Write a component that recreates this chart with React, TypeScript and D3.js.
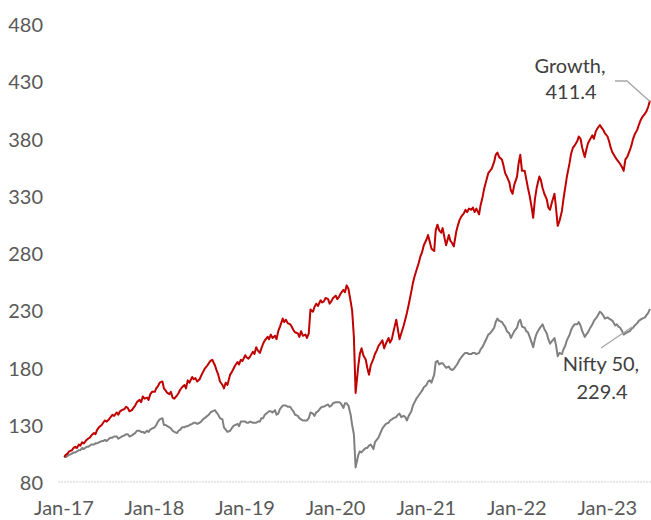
import React from "react";
import * as d3 from "d3";

// Each month carries four observations, on days 1, 8, 15 and 22.
const months: string[] = [
  "2017-01","2017-02","2017-03","2017-04","2017-05","2017-06","2017-07","2017-08","2017-09","2017-10","2017-11","2017-12",
  "2018-01","2018-02","2018-03","2018-04","2018-05","2018-06","2018-07","2018-08","2018-09","2018-10","2018-11","2018-12",
  "2019-01","2019-02","2019-03","2019-04","2019-05","2019-06","2019-07","2019-08","2019-09","2019-10","2019-11","2019-12",
  "2020-01","2020-02","2020-03","2020-04","2020-05","2020-06","2020-07","2020-08","2020-09","2020-10","2020-11","2020-12",
  "2021-01","2021-02","2021-03","2021-04","2021-05","2021-06","2021-07","2021-08","2021-09","2021-10","2021-11","2021-12",
  "2022-01","2022-02","2022-03","2022-04","2022-05","2022-06","2022-07","2022-08","2022-09","2022-10","2022-11","2022-12",
  "2023-01","2023-02","2023-03","2023-04","2023-05","2023-06",
];
const obsDays: number[] = [2, 8, 15, 22];

const growth: number[][] = [
  [100,102,103,105],[106,108,109,108],[111,110,113,112],[115,116,117,119],[121,120,124,126],[128,130,132,131],
  [133,135,137,136],[139,137,140,141],[142,144,143,140],[141,143,145,148],[150,148,153,151],[152,150,155,157],
  [157,160,162,165],[166,160,158,156],[155,157,152,151],[154,156,159,161],[163,160,167,165],[170,168,169,166],
  [168,171,174,177],[180,182,184,185],[180,176,172,166],[163,160,165,163],[172,174,177,180],[183,181,185,184],
  [189,187,186,188],[192,190,196,193],[191,195,199,202],[205,203,207,204],[206,203,210,214],[221,218,220,217],
  [216,214,211,209],[208,205,210,206],[207,204,208,229],[227,231,234,232],[237,235,236,239],[238,234,236,239],
  [241,238,240,243],[246,244,250,247],[236,228,205,156],[180,190,195,189],[185,178,172,180],[186,190,193,197],
  [200,202,195,199],[204,200,203,210],[220,212,203,208],[215,220,226,233],[245,252,258,263],[270,275,279,285],
  [290,294,288,282],[280,298,303,298],[296,300,292,285],[294,289,287,284],[297,302,307,310],[313,316,314,317],
  [316,318,314,317],[312,320,326,334],[343,348,350,352],[358,364,366,362],[360,355,348,345],[340,333,330,338],
  [345,356,364,350],[350,343,335,328],[318,309,325,335],[345,342,335,330],[325,318,316,322],[330,318,302,306],
  [315,325,335,345],[357,365,370,372],[376,380,378,370],[362,368,374,377],[381,378,384,387],[390,388,386,383],
  [380,376,370,366],[362,360,358,356],[353,350,360,362],[368,372,378,382],[386,390,394,397],[400,402,406,411.4],
];

const nifty: number[][] = [
  [100,100,101,102],[103,104,104,105],[106,106,108,107],[109,109,110,111],[111,112,112,113],[114,114,115,114],
  [116,117,117,118],[118,116,117,118],[119,120,120,118],[119,120,121,123],[123,122,122,121],[123,122,124,125],
  [126,128,131,133],[134,128,128,127],[126,125,123,122],[121,123,124,126],[126,127,127,128],[129,130,130,129],
  [130,131,133,134],[136,137,139,140],[141,139,137,134],[133,126,124,122],[123,125,127,128],[129,127,131,131],
  [131,130,130,131],[130,130,130,131],[131,134,134,137],[139,140,140,139],[141,137,138,142],[145,145,145,144],
  [144,142,140,137],[136,134,133,132],[132,132,134,139],[138,136,139,140],[143,144,144,145],[146,144,145,147],
  [148,148,148,147],[143,147,147,145],[137,128,120,91],[102,105,104,106],[108,108,110,111],[107,113,115,117],
  [122,125,127,129],[130,132,133,134],[135,137,138,135],[136,135,132,136],[140,145,148,151],[154,156,158,161],
  [163,166,167,165],[172,183,184,181],[182,182,180,178],[179,177,176,177],[180,182,185,187],[190,191,191,190],
  [190,191,191,190],[191,194,196,199],[204,207,208,210],[213,218,221,219],[218,216,214,210],[208,204,207,210],
  [213,218,220,214],[213,210,209,205],[200,196,203,208],[212,214,216,212],[208,203,199,201],[204,198,188,191],
  [190,194,197,202],[207,211,214,216],[216,218,215,210],[205,207,209,212],[216,219,221,223],[227,226,224,221],
  [222,221,220,219],[215,216,214,213],[210,207,208,209],[210,212,213,215],[217,219,220,221],[222,224,226,229.4],
];

const yTicks: number[] = [80, 130, 180, 230, 280, 330, 380, 430, 480];
const xTickYears: number[] = [2017, 2018, 2019, 2020, 2021, 2022, 2023];
const xTickLabels: string[] = ["Jan-17", "Jan-18", "Jan-19", "Jan-20", "Jan-21", "Jan-22", "Jan-23"];
const seriesNames: string[] = ["Growth", "Nifty 50"];

export default function App() {
  const W = 651;
  const H = 520;
  const x = d3.scaleTime()
    .domain([new Date(2017, 0, 1), new Date(2023, 0, 1)])
    .range([64, 607.3]);
  const y = d3.scaleLinear().domain([80, 480]).range([480, 22]);

  const pts: { t: Date; g: number; n: number }[] = [];
  months.forEach((m, i) => {
    const [yr, mo] = m.split("-").map(Number);
    obsDays.forEach((day, j) => {
      pts.push({ t: new Date(yr, mo - 1, day), g: growth[i][j], n: nifty[i][j] });
    });
  });
  const lineG = d3.line<any>().x((d) => x(d.t)).y((d) => y(d.g));
  const lineN = d3.line<any>().x((d) => x(d.t)).y((d) => y(d.n));

  const font = "Lato, 'Open Sans', sans-serif";
  const last = pts[pts.length - 1];

  return (
    <svg width={W} height={H} style={{ position: "absolute", left: 0, top: 0, background: "#fff" }}>
      <line x1={58} x2={651} y1={482} y2={482} stroke="#d0d0d0" strokeWidth={1} strokeDasharray="2,1" />
      {yTicks.map((t) => (
        <text key={t} x={43} y={y(t) + 2} textAnchor="end" dominantBaseline="central"
          fontFamily={font} fontSize={20} fill="#595959">{t}</text>
      ))}
      {xTickYears.map((yr, i) => (
        <text key={yr} x={x(new Date(yr, 0, 1))} y={515} textAnchor="middle"
          fontFamily={font} fontSize={20} fill="#595959">{xTickLabels[i]}</text>
      ))}
      <path d={lineN(pts) || ""} fill="none" stroke="#808080" strokeWidth={2} strokeLinejoin="round" />
      <path d={lineG(pts) || ""} fill="none" stroke="#c00000" strokeWidth={2} strokeLinejoin="round" />
      <polyline points={`615,81 627,81 ${x(last.t)},${y(last.g) + 1}`} fill="none" stroke="#a6a6a6" strokeWidth={1.3} />
      <text x={570} y={73} textAnchor="middle" fontFamily={font} fontSize={20} fill="#404040">{seriesNames[0]},</text>
      <text x={571} y={99} textAnchor="middle" fontFamily={font} fontSize={20} fill="#404040">{last.g.toFixed(1)}</text>
      <line x1={601} y1={348} x2={632} y2={327} stroke="#a6a6a6" strokeWidth={1.3} />
      <text x={601} y={371} textAnchor="middle" fontFamily={font} fontSize={20} fill="#404040">{seriesNames[1]},</text>
      <text x={602} y={399} textAnchor="middle" fontFamily={font} fontSize={20} fill="#404040">{last.n.toFixed(1)}</text>
    </svg>
  );
}
